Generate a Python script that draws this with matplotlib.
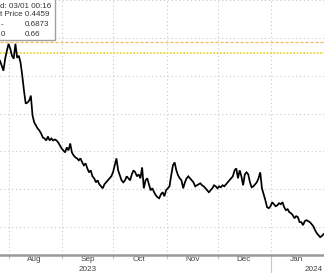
import matplotlib
matplotlib.use("Agg")
import matplotlib.pyplot as plt
import matplotlib.dates as mdates
from matplotlib import font_manager
from matplotlib.patches import Rectangle
import pandas as pd

# ---- data ----
start_date = "2023-07-26 18:00"
prices = [
    0.6697, 0.6632, 0.6566, 0.6724, 0.6829, 0.6921, 0.6855, 0.6763, 0.6724, 0.6921,
    0.6737, 0.6763, 0.6671, 0.6500, 0.6303, 0.6132, 0.6145, 0.6171, 0.6237, 0.5974,
    0.5882, 0.5842, 0.5803, 0.5776, 0.5737, 0.5684, 0.5671, 0.5645, 0.5697, 0.5645,
    0.5671, 0.5645, 0.5658, 0.5645, 0.5618, 0.5579, 0.5539, 0.5513, 0.5487, 0.5553,
    0.5513, 0.5605, 0.5487, 0.5447, 0.5421, 0.5408, 0.5382, 0.5408, 0.5355, 0.5316,
    0.5342, 0.5276, 0.5224, 0.5250, 0.5171, 0.5145, 0.5092, 0.5118, 0.5066, 0.5039,
    0.5013, 0.5066, 0.5092, 0.5118, 0.5145, 0.5171, 0.5224, 0.5316, 0.5408, 0.5250,
    0.5184, 0.5118, 0.5092, 0.5118, 0.5171, 0.5145, 0.5118, 0.5197, 0.5250, 0.5224,
    0.5171, 0.5197, 0.5145, 0.5289, 0.5013, 0.5118, 0.5145, 0.5066, 0.4987, 0.5013,
    0.4961, 0.4921, 0.4895, 0.4882, 0.4934, 0.4961, 0.4908, 0.4987, 0.5013, 0.5039,
    0.5184, 0.5316, 0.5355, 0.5250, 0.5184, 0.5145, 0.5118, 0.5013, 0.5092, 0.5145,
    0.5171, 0.5145, 0.5118, 0.5092, 0.5039, 0.5053, 0.5066, 0.5079, 0.5053, 0.5039,
    0.5013, 0.4987, 0.4961, 0.4987, 0.5013, 0.5053, 0.5039, 0.5013, 0.5039, 0.5026,
    0.5053, 0.5039, 0.5066, 0.5092, 0.5118, 0.5145, 0.5171, 0.5250, 0.5276, 0.5145,
    0.5250, 0.5171, 0.5053, 0.5197, 0.5224, 0.5197, 0.5092, 0.5026, 0.5039, 0.5066,
    0.5092, 0.5145, 0.5224, 0.5013, 0.4934, 0.4855, 0.4763, 0.4750, 0.4776, 0.4829,
    0.4803, 0.4776, 0.4789, 0.4816, 0.4803, 0.4829, 0.4763, 0.4724, 0.4737, 0.4697,
    0.4684, 0.4658, 0.4618, 0.4645, 0.4632, 0.4566, 0.4566, 0.4526, 0.4579, 0.4592,
    0.4579, 0.4566, 0.4539, 0.4513, 0.4461, 0.4421, 0.4395, 0.4368, 0.4382, 0.4408,
]
dates = pd.date_range(start_date, periods=len(prices), freq="D")

level_orange = 0.6947
level_yellow = 0.6803
y_grid = [0.45, 0.50, 0.55, 0.60, 0.65, 0.70, 0.75]

tip_lines_left = ["d: 03/01 00:16", "t Price 0.4459", "-", "0"]
tip_values = ["", "", "0.6873", "0.66"]

# ---- font ----
names = {f.name for f in font_manager.fontManager.ttflist}
fam = "Liberation Sans Narrow" if "Liberation Sans Narrow" in names else "Liberation Sans"
plt.rcParams["font.family"] = [fam, "DejaVu Sans"]

W, H = 324, 273
fig = plt.figure(figsize=(W / 100, H / 100), dpi=100)
axis_px = 255
ax = fig.add_axes([0, (H - axis_px) / H, 1, axis_px / H])

ax.plot(dates, prices, color="black", lw=1.25, zorder=3, solid_joinstyle="miter")
ax.axhline(level_orange, color="#f6b95e", lw=0.9, ls=(0, (2.5, 1.5)), zorder=2)
ax.axhline(level_yellow, color="#ead21a", lw=1.2, ls=(0, (1, 1)), zorder=2)

ax.set_xlim(pd.Timestamp("2023-07-26 17:45"), pd.Timestamp("2024-02-01 00:00"))
ax.set_ylim(0.4132, 0.7495)

ax.set_yticks(y_grid)
ax.tick_params(axis="y", length=0, labelleft=False)
ax.grid(axis="y", color="#c8c8c8", ls=(0, (1, 2.5)), lw=0.8)

ax.xaxis.set_major_locator(mdates.MonthLocator())
ax.xaxis.set_major_formatter(plt.NullFormatter())
ax.xaxis.set_minor_locator(mdates.MonthLocator(bymonthday=16))
ax.xaxis.set_minor_formatter(mdates.DateFormatter("%b"))
ax.grid(axis="x", which="major", color="#c8c8c8", ls=(0, (1, 2.5)), lw=0.8)
ax.tick_params(axis="x", which="major", length=3, color="#c8c8c8", width=0.8)
ax.tick_params(axis="x", which="minor", length=0, labelsize=5.9, labelcolor="#444444", pad=0.5)

for s in ["top", "right", "left"]:
    ax.spines[s].set_visible(False)
ax.spines["bottom"].set_color("#9a9a9a")
ax.spines["bottom"].set_linewidth(1.8)

# year labels
trans = ax.get_xaxis_transform()
yr_y = -(269.5 - axis_px) / axis_px
ax.text(pd.Timestamp("2023-09-16"), yr_y, "2023", transform=trans,
        ha="center", va="center", fontsize=5.9, color="#444444")
ax.text(323 / W, yr_y, "2024", transform=ax.transAxes,
        ha="right", va="center", fontsize=5.9, color="#444444")
ax.plot([pd.Timestamp("2024-01-01")] * 2, [-(258 - axis_px) / axis_px, -(274 - axis_px) / axis_px],
        transform=trans, color="#c8c8c8", lw=0.8, clip_on=False)

# tooltip box
box = Rectangle((-0.02, (axis_px - 40) / axis_px), 0.02 + 55 / W, 0.2,
                transform=ax.transAxes, facecolor="white", edgecolor="#a0a0a0",
                lw=1.0, zorder=10, clip_on=False)
ax.add_patch(box)
rows_y = [6, 15, 24.5, 34]
for yy, lt, vt in zip(rows_y, tip_lines_left, tip_values):
    yf = (axis_px - yy) / axis_px
    ax.text(0.5 / W, yf, lt, transform=ax.transAxes, ha="left", va="center",
            fontsize=5.8, color="#333333", zorder=11)
    if vt:
        ax.text(25 / W, yf, vt, transform=ax.transAxes, ha="left", va="center",
                fontsize=5.8, color="#333333", zorder=11)

fig.savefig("out.png", dpi=100)
